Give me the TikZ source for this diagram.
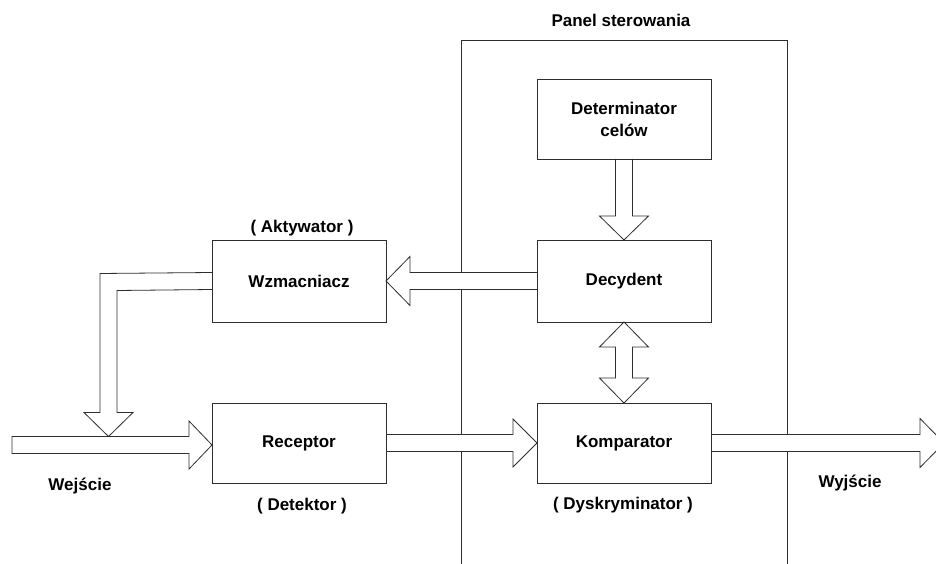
\documentclass[tikz,border=0pt]{standalone}
\usepackage{fontspec}
\setmainfont{Liberation Sans}
\usetikzlibrary{calc}
\definecolor{ink}{HTML}{2E2E2E}
\begin{document}
\begin{tikzpicture}[x=1pt,y=-1pt,
  every node/.style={font=\fontsize{17}{22}\selectfont\bfseries, text=black},
  block/.style={draw=ink, line width=0.9pt, fill=white, minimum width=174pt,
    inner sep=0pt, outer sep=0pt, align=center},
  fatarrow/.style={draw=ink, line width=0.8pt, fill=white, line join=miter},
  frame/.style={draw=ink, line width=0.8pt},
  caption/.style={inner sep=0pt}]
\useasboundingbox (0,0) rectangle (936,564);
\clip (0,0) rectangle (936,564);
\fill[white] (0,0) rectangle (936,564);

% control panel outline (open at the bottom)
\draw[frame] (461,580) -- (461,40) -- (787,40) -- (787,580);
\node[caption] (panellbl) at (621,20) {Panel sterowania};

% free ends of the input and output arrows, and the feedback bend
\coordinate (inL) at (12,445);
\coordinate (outR) at (944,443);
\coordinate (fbc) at (108.5,282);

% blocks
\node[block, minimum height=80pt] (det) at (624,119) {Determinator\\cel\'ow};
\node[block, minimum height=82pt] (dcy) at (624,281) {Decydent};
\node[block, minimum height=80pt] (kom) at (624,443) {Komparator};
\node[block, minimum height=82pt] (wzm) at (299,281) {Wzmacniacz};
\node[block, minimum height=80pt] (rec) at (299,443) {Receptor};

% Determinator -> Decydent
\draw[fatarrow] ($(det.south)+(-8.5,0)$) -- ($(dcy.north)+(-8.5,-24)$)
  -- ($(dcy.north)+(-24.5,-24)$) -- (dcy.north) -- ($(dcy.north)+(24.5,-24)$)
  -- ($(dcy.north)+(8.5,-24)$) -- ($(det.south)+(8.5,0)$);

% Decydent <-> Komparator
\draw[fatarrow] (dcy.south) -- ($(dcy.south)+(24.5,25)$) -- ($(dcy.south)+(8.5,25)$)
  -- ($(kom.north)+(8.5,-25)$) -- ($(kom.north)+(24.5,-25)$) -- (kom.north)
  -- ($(kom.north)+(-24.5,-25)$) -- ($(kom.north)+(-8.5,-25)$)
  -- ($(dcy.south)+(-8.5,25)$) -- ($(dcy.south)+(-24.5,25)$) -- cycle;

% Decydent -> Wzmacniacz
\draw[fatarrow] ($(dcy.west)+(0,-8.5)$) -- ($(wzm.east)+(24,-8.5)$)
  -- ($(wzm.east)+(24,-24.5)$) -- (wzm.east) -- ($(wzm.east)+(24,24.5)$)
  -- ($(wzm.east)+(24,8.5)$) -- ($(dcy.west)+(0,8.5)$);

% Wzmacniacz -> input line (feedback)
\coordinate (fbtip) at ($(fbc |- inL)+(0,-8.5)$);
\draw[fatarrow] ($(wzm.west)+(0,-8.5)$) -- ($(fbc)+(-8.5,-8.5)$)
  -- ($(fbtip)+(-8.5,-24)$) -- ($(fbtip)+(-24.5,-24)$) -- (fbtip)
  -- ($(fbtip)+(24.5,-24)$) -- ($(fbtip)+(8.5,-24)$)
  -- ($(fbc)+(8.5,8.5)$) -- ($(wzm.west)+(0,8.5)$);

% input -> Receptor
\coordinate (intip) at (rec.west |- inL);
\draw[fatarrow] ($(inL)+(0,-8.5)$) -- ($(intip)+(-23,-8.5)$)
  -- ($(intip)+(-23,-24)$) -- (intip) -- ($(intip)+(-23,24)$)
  -- ($(intip)+(-23,8.5)$) -- ($(inL)+(0,8.5)$) -- cycle;

% Receptor -> Komparator
\draw[fatarrow] ($(rec.east)+(0,-8.5)$) -- ($(kom.west)+(-24,-8.5)$)
  -- ($(kom.west)+(-24,-24)$) -- (kom.west) -- ($(kom.west)+(-24,24)$)
  -- ($(kom.west)+(-24,8.5)$) -- ($(rec.east)+(0,8.5)$);

% Komparator -> output
\draw[fatarrow] ($(kom.east)+(0,-8.5)$) -- ($(outR)+(-24,-8.5)$)
  -- ($(outR)+(-24,-24.5)$) -- (outR) -- ($(outR)+(-24,24.5)$)
  -- ($(outR)+(-24,8.5)$) -- ($(kom.east)+(0,8.5)$);

% redraw block borders on top of the arrow roots
\foreach \b in {det,dcy,kom,wzm,rec}
  \draw[ink, line width=0.9pt] (\b.north west) rectangle (\b.south east);

% captions
\node[caption] (akt) at (302,228) {( Aktywator )};
\node[caption] (wej) at (80,486) {Wejście};
\node[caption] (detk) at (302,506) {( Detektor )};
\node[caption] (dysk) at (623,505) {( Dyskryminator )};
\node[caption] (wyj) at (850,483) {Wyjście};
\end{tikzpicture}
\end{document}
